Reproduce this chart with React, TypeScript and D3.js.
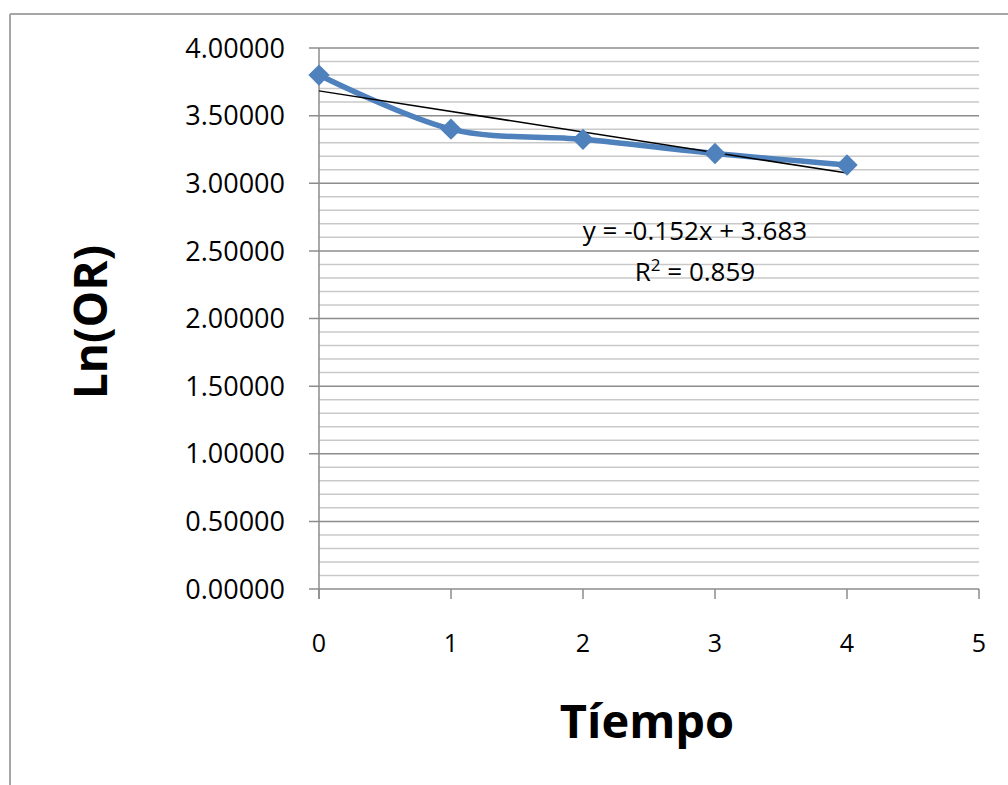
import React from "react";
import * as d3 from "d3";

const tiempo = [0, 1, 2, 3, 4];
const lnOR = [3.8, 3.4, 3.325, 3.22, 3.135];
const yTicks = [0, 0.5, 1, 1.5, 2, 2.5, 3, 3.5, 4];
const xTicks = [0, 1, 2, 3, 4, 5];
const trendSlope = -0.152;
const trendIntercept = 3.683;
const equationLabel = "y = -0.152x + 3.683";
const r2Value = "0.859";

const W = 1008;
const H = 785;
const left = 319;
const right = 979;
const top = 48;
const bottom = 589;

export default function App() {
  const x = d3.scaleLinear().domain([0, 5]).range([left, right]);
  const y = d3.scaleLinear().domain([0, 4]).range([bottom, top]);
  const minor = d3.range(0, 41).map((i) => i / 10).filter((v) => Math.abs(v * 2 - Math.round(v * 2)) > 1e-6);

  const line = d3
    .line<number>()
    .x((_, i) => x(tiempo[i]))
    .y((d) => y(d))
    .curve(d3.curveCardinal.tension(0));

  const diamond = d3.symbol().type(d3.symbolDiamond2).size(290)();
  const x0 = tiempo[0];
  const x1 = tiempo[tiempo.length - 1];
  const font = "'Open Sans', 'Noto Sans', sans-serif";

  return (
    <svg
      width={W}
      height={H}
      style={{ position: "absolute", left: 0, top: 0, background: "#fff" }}
      fontFamily={font}
    >
      <rect x={0} y={0} width={W} height={H} fill="#fff" />
      {/* chart border */}
      <line x1={10} y1={14} x2={W} y2={14} stroke="#a6a6a6" strokeWidth={2} />
      <line x1={10} y1={14} x2={10} y2={H} stroke="#a6a6a6" strokeWidth={2} />

      {/* minor gridlines */}
      {minor.map((v) => (
        <line key={"m" + v} x1={left} x2={right} y1={y(v)} y2={y(v)} stroke="#c9c9c9" strokeWidth={1.5} />
      ))}
      {/* major gridlines */}
      {yTicks.map((v) => (
        <line key={"g" + v} x1={left - 10} x2={right} y1={y(v)} y2={y(v)} stroke="#8c8c8c" strokeWidth={1.5} />
      ))}
      {/* y axis */}
      <line x1={left} x2={left} y1={top} y2={bottom + 10} stroke="#8c8c8c" strokeWidth={1.5} />
      {/* x tick marks */}
      {xTicks.map((v) => (
        <line key={"xt" + v} x1={x(v)} x2={x(v)} y1={bottom} y2={bottom + 10} stroke="#8c8c8c" strokeWidth={1.5} />
      ))}

      {/* y tick labels */}
      {yTicks.map((v) => (
        <text key={"yl" + v} x={285} y={y(v)} dy="0.36em" textAnchor="end" fontSize={27} fill="#000">
          {v.toFixed(5)}
        </text>
      ))}
      {/* x tick labels */}
      {xTicks.map((v) => (
        <text key={"xl" + v} x={x(v)} y={643} dy="0.36em" textAnchor="middle" fontSize={25} fill="#000">
          {v}
        </text>
      ))}

      {/* series line */}
      <path d={line(lnOR) || ""} fill="none" stroke="#4f81bd" strokeWidth={5.5} strokeLinejoin="round" />
      {/* trendline */}
      <line
        x1={x(x0)}
        y1={y(trendIntercept + trendSlope * x0)}
        x2={x(x1)}
        y2={y(trendIntercept + trendSlope * x1)}
        stroke="#000"
        strokeWidth={1.5}
      />
      {/* markers */}
      {lnOR.map((v, i) => (
        <path key={"mk" + i} d={diamond || ""} transform={`translate(${x(tiempo[i])},${y(v)})`} fill="#4f81bd" />
      ))}

      {/* equation */}
      <text x={695} y={231} dy="0.36em" textAnchor="middle" fontSize={26} fill="#000">
        {equationLabel}
      </text>
      <text x={695} y={272} dy="0.36em" textAnchor="middle" fontSize={26} fill="#000">
        R<tspan fontSize={17} dy="-10">2</tspan>
        <tspan dy="10"> = {r2Value}</tspan>
      </text>

      {/* axis titles */}
      <text x={647} y={721} dy="0.36em" textAnchor="middle" fontSize={47} fontWeight="bold" fill="#000">
        Tíempo
      </text>
      <text
        transform={`translate(90,322) rotate(-90)`}
        dy="0.36em"
        textAnchor="middle"
        fontSize={46}
        fontWeight="bold"
        fill="#000"
      >
        Ln(OR)
      </text>
    </svg>
  );
}
